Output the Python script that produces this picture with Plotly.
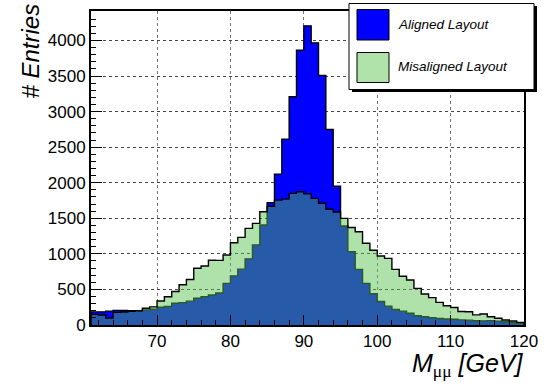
import plotly.graph_objects as go

# ---------------- data ----------------
bin_left = list(range(61, 120))  # 1 GeV bins from 61 to 120
aligned = [185, 185, 195, 205, 205, 200, 200, 210, 222, 250,
           260, 305, 315, 335, 375, 398, 421, 450, 585, 690,
           785, 930, 1124, 1405, 1720, 2121, 2613, 3208, 3863, 4205,
           3966, 3508, 2749, 1950, 1391, 1030, 782, 585, 440, 330,
           265, 220, 195, 165, 130, 115, 103, 92, 85, 80,
           72, 68, 60, 58, 62, 55, 45, 35, 25]
misaligned = [150, 140, 98, 178, 182, 192, 198, 235, 255, 338,
              398, 470, 565, 640, 798, 830, 910, 908, 983, 1157,
              1232, 1358, 1428, 1592, 1670, 1756, 1770, 1850, 1873, 1845,
              1780, 1712, 1627, 1588, 1499, 1370, 1310, 1150, 1050, 969,
              937, 782, 685, 632, 515, 435, 385, 318, 270, 246,
              190, 187, 142, 155, 117, 94, 70, 56, 37]
x_ticks = [70, 80, 90, 100, 110, 120]
y_ticks = [0, 500, 1000, 1500, 2000, 2500, 3000, 3500, 4000]
series_names = ["Aligned Layout", "Misaligned Layout"]

# ---------------- geometry ----------------
W, H = 552, 387
ML, MR, MT, MB = 91, 28, 11, 62
PW, PH = W - ML - MR, H - MT - MB


def px_x(p):
    return (p - ML) / PW


def px_y(p):
    return (H - MB - p) / PH


def step_xy(values):
    bw = 1
    xs = [bin_left[0]] + bin_left + [bin_left[-1] + bw, bin_left[-1] + bw]
    ys = [0] + values + [values[-1], 0]
    return xs, ys


fig = go.Figure()

xa, ya = step_xy(aligned)
fig.add_trace(go.Scatter(x=xa, y=ya, mode="lines", line_shape="hv",
                         line=dict(color="black", width=1.4),
                         fill="tozeroy", fillcolor="#0000ff",
                         name=series_names[0], showlegend=False, hoverinfo="skip"))
xm, ym = step_xy(misaligned)
fig.add_trace(go.Scatter(x=xm, y=ym, mode="lines", line_shape="hv",
                         line=dict(color="black", width=1.4),
                         fill="tozeroy", fillcolor="rgba(85,191,74,0.47)",
                         name=series_names[1], showlegend=False, hoverinfo="skip"))

font_main = "Liberation Sans, Arial, Helvetica, sans-serif"

fig.update_layout(
    width=W, height=H,
    margin=dict(l=ML, r=MR, t=MT, b=MB, pad=0, autoexpand=False),
    paper_bgcolor="white", plot_bgcolor="white",
    showlegend=False,
    font=dict(family=font_main, size=17, color="black"),
)

fig.update_xaxes(
    range=[61, 120], tickmode="array", tickvals=x_ticks, automargin=False,
    ticks="inside", ticklen=10, tickwidth=1, tickcolor="black",
    minor=dict(dtick=2, tick0=0, ticks="inside", ticklen=5, tickcolor="black", showgrid=False),
    showline=True, linecolor="black", linewidth=2, mirror=True,
    showgrid=True, gridcolor="#777777", griddash="dot", gridwidth=1,
    zeroline=False, tickfont=dict(size=17, family=font_main),
)
fig.update_yaxes(
    range=[0, 4414], tickmode="array", tickvals=y_ticks, automargin=False,
    ticks="inside", ticklen=11, tickwidth=1, tickcolor="black",
    minor=dict(dtick=100, tick0=0, ticks="inside", ticklen=5, tickcolor="black", showgrid=False),
    showline=True, linecolor="black", linewidth=2, mirror=True,
    showgrid=True, gridcolor="#444444", griddash="dot", gridwidth=1,
    zeroline=False, tickfont=dict(size=17, family=font_main),
)

# axis titles
fig.add_annotation(xref="paper", yref="paper", x=px_x(526), y=px_y(365),
                   xanchor="right", yanchor="middle", showarrow=False,
                   text="<i>M</i><sub><span style=\"font-family:'Liberation Serif'\">μμ</span></sub><i> [GeV]</i>",
                   font=dict(size=25, family=font_main))
fig.add_annotation(xref="paper", yref="paper", x=px_x(30), y=px_y(1),
                   xanchor="center", yanchor="top", showarrow=False, textangle=-90,
                   text="<i># Entries</i>", font=dict(size=24, family=font_main))

# legend box (drawn manually to match the ROOT style)
shapes = []
shapes.append(dict(type="rect", xref="paper", yref="paper",
                   x0=px_x(352), x1=px_x(537), y0=px_y(92), y1=px_y(6),
                   fillcolor="black", line=dict(width=0), layer="above"))
shapes.append(dict(type="rect", xref="paper", yref="paper",
                   x0=px_x(349), x1=px_x(534), y0=px_y(89.5), y1=px_y(3.5),
                   fillcolor="white", line=dict(color="black", width=1), layer="above"))
shapes.append(dict(type="rect", xref="paper", yref="paper",
                   x0=px_x(357), x1=px_x(389), y0=px_y(40), y1=px_y(9.5),
                   fillcolor="#0000ff", line=dict(color="black", width=1), layer="above"))
shapes.append(dict(type="rect", xref="paper", yref="paper",
                   x0=px_x(357), x1=px_x(389), y0=px_y(82.5), y1=px_y(52.5),
                   fillcolor="rgb(175,227,170)", line=dict(color="black", width=1), layer="above"))
fig.update_layout(shapes=shapes)

fig.add_annotation(xref="paper", yref="paper", x=px_x(396), y=px_y(24.5),
                   xanchor="left", yanchor="middle", showarrow=False,
                   text="<i>" + series_names[0] + "</i>", font=dict(size=13.5, family=font_main))
fig.add_annotation(xref="paper", yref="paper", x=px_x(396), y=px_y(67),
                   xanchor="left", yanchor="middle", showarrow=False,
                   text="<i>" + series_names[1] + "</i>", font=dict(size=13.5, family=font_main))

fig.write_html("out.html", config={"displayModeBar": False},
               post_script="document.body.style.margin='0';document.body.style.overflow='hidden';")
